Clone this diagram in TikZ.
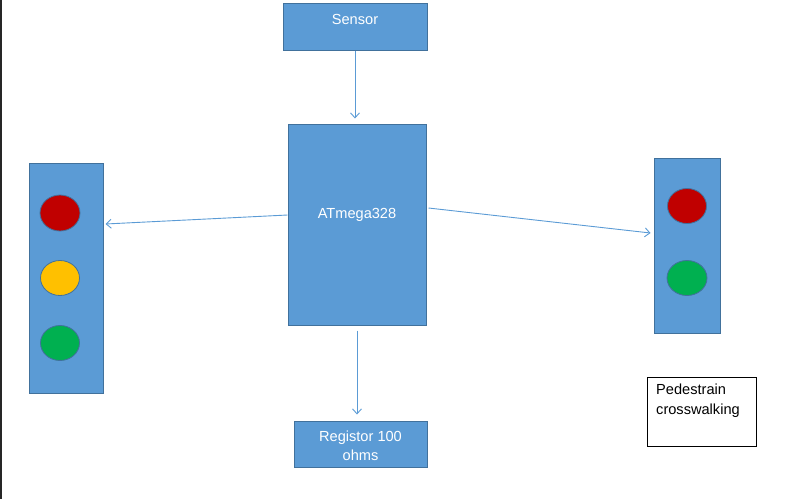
\documentclass[tikz,border=0pt]{standalone}
\usepackage{fontspec}
\setmainfont{Liberation Sans}
\usetikzlibrary{arrows.meta,shapes.geometric}
\definecolor{boxfill}{HTML}{5B9BD5}
\definecolor{boxline}{HTML}{41719C}
\definecolor{lred}{HTML}{C00000}
\definecolor{lyellow}{HTML}{FFC000}
\definecolor{lgreen}{HTML}{00B050}
\begin{document}
\begin{tikzpicture}[x=1pt,y=-1pt,
  bluebox/.style={draw=boxline, fill=boxfill, line width=1pt, inner sep=0pt, rectangle},
  lamp/.style={draw=boxline, line width=0.8pt, ellipse, inner sep=0pt},
  wtext/.style={text=white, font=\fontsize{14.6}{19}\selectfont, align=center, inner sep=0pt},
  btext/.style={text=black, font=\fontsize{14.6}{20}\selectfont, align=left, inner sep=0pt},
  conn/.style={draw=boxfill, line width=0.9pt, -{Straight Barb[length=5pt,width=9pt]}}]
\useasboundingbox (0,0) rectangle (785,499);
\draw[line width=1.6pt, black!85] (0.8,0) -- (0.8,499);

% boxes
\node[bluebox, minimum width=144pt, minimum height=47pt] (sensor) at (355,26.5) {};
\node[wtext] (sensortext) at (355,19) {Sensor};
\node[bluebox, minimum width=138pt, minimum height=201pt] (atm) at (357,224.5) {};
\node[wtext] (atmtext) at (357,215) {ATmega328};
\node[bluebox, minimum width=133pt, minimum height=46pt] (reg) at (360.5,444) {};
\node[wtext] (regtext) at (360.5,445.5) {Registor 100\\ohms};

% left traffic light
\node[bluebox, minimum width=74pt, minimum height=230pt] (tl) at (66,278) {};
\node[lamp, fill=lred, minimum width=40pt, minimum height=36pt] (tlred) at (60,213) {};
\node[lamp, fill=lyellow, minimum width=39pt, minimum height=35pt] (tlyel) at (60,278) {};
\node[lamp, fill=lgreen, minimum width=39pt, minimum height=35pt] (tlgrn) at (60,343) {};

% right traffic light
\node[bluebox, minimum width=66pt, minimum height=175pt] (tr) at (687,245.5) {};
\node[lamp, fill=lred, minimum width=39pt, minimum height=35pt] (trred) at (687,206) {};
\node[lamp, fill=lgreen, minimum width=40pt, minimum height=35pt] (trgrn) at (687,278) {};

% pedestrian box
\node[draw=black, line width=0.9pt, fill=white, minimum width=109pt, minimum height=69pt, inner sep=0pt] (ped) at (701.5,411.5) {};
\node[btext, anchor=north west] (pedtext) at (656,384) {Pedestrain\\crosswalking};

% connectors
\draw[conn] (sensor.south) -- ([yshift=5pt]atm.north -| sensor.south);
\draw[conn] ([yshift=9.5pt]atm.west) -- ([xshift=2pt,yshift=54pt]tl.east);
\draw[conn] ([xshift=2pt,yshift=16.5pt]atm.east) -- ([xshift=-3pt,yshift=12.5pt]tr.west);
\draw[conn] ([yshift=-5pt]atm.south) -- ([yshift=6pt]atm.south |- reg.north);
\end{tikzpicture}
\end{document}
